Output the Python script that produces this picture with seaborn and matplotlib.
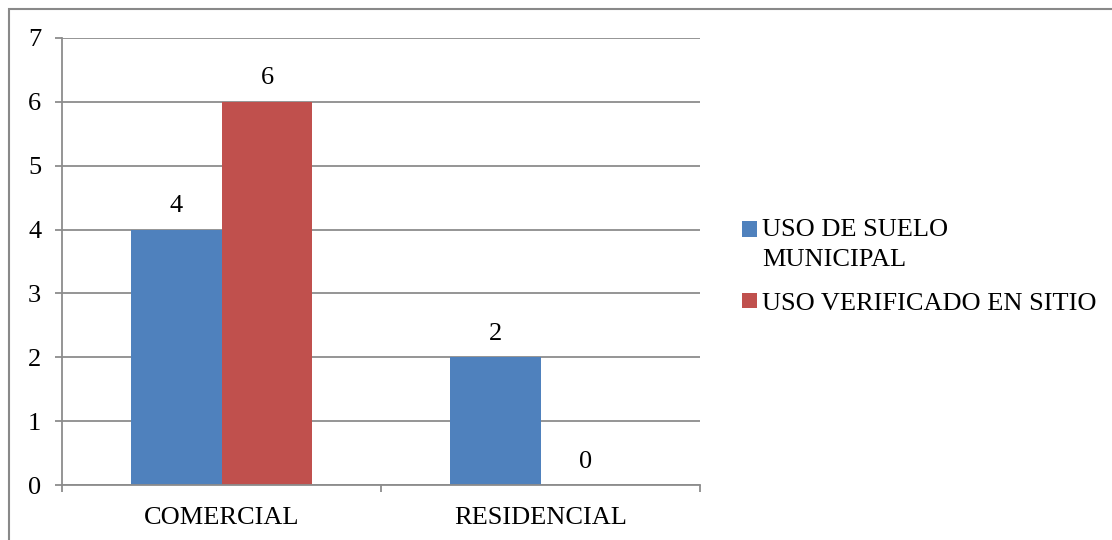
import matplotlib
matplotlib.use("Agg")
import matplotlib.pyplot as plt
from matplotlib.patches import Rectangle
from matplotlib.legend_handler import HandlerPatch
import seaborn as sns
import pandas as pd

categories = ["COMERCIAL", "RESIDENCIAL"]
series_names = ["USO DE SUELO\nMUNICIPAL", "USO VERIFICADO EN SITIO"]
uso_municipal = [4, 2]
uso_verificado = [6, 0]
y_ticks = [0, 1, 2, 3, 4, 5, 6, 7]

colors = ["#4F81BD", "#C0504D"]
grid_color = "#8C8C8C"

df = pd.DataFrame({
    "categoria": categories * 2,
    "serie": [series_names[0]] * len(categories) + [series_names[1]] * len(categories),
    "valor": uso_municipal + uso_verificado,
})

sns.set_theme(style="white")
plt.rcParams["font.family"] = ["Liberation Serif", "DejaVu Serif"]
plt.rcParams["text.color"] = "black"
plt.rcParams["xtick.labelcolor"] = "black"
plt.rcParams["ytick.labelcolor"] = "black"

fig = plt.figure(figsize=(11.12, 5.40), dpi=100)
ax = fig.add_axes([62 / 1112, 1 - 485 / 540, (700 - 62) / 1112, (485 - 38) / 540])

sns.barplot(data=df, x="categoria", y="valor", hue="serie", palette=colors,
            width=0.57, gap=0, saturation=1, ax=ax, legend=True, linewidth=0,
            order=categories, hue_order=series_names)

ax.set_xlim(-0.5, len(categories) - 0.5)
ax.set_ylim(0, 7)
ax.set_yticks(y_ticks)
ax.set_xlabel("")
ax.set_ylabel("")

ax.yaxis.grid(True, color=grid_color, linewidth=1.3)
ax.set_axisbelow(True)
for side in ["top", "right"]:
    ax.spines[side].set_visible(False)
for side in ["left", "bottom"]:
    ax.spines[side].set_color(grid_color)
    ax.spines[side].set_linewidth(1.3)

ax.tick_params(axis="y", left=True, length=5, width=1.3, color=grid_color,
               labelsize=19, pad=10, labelcolor="black")
# category boundary ticks on the x axis
ax.set_xticks([-0.5, 0.5, 1.5], minor=True)
ax.set_xticks(range(len(categories)))
ax.set_xticklabels(categories)
ax.tick_params(axis="x", which="major", bottom=False, labelsize=19, pad=10,
               labelcolor="black")
ax.tick_params(axis="x", which="minor", bottom=True, length=5, width=1.3,
               color=grid_color)

for container in ax.containers:
    ax.bar_label(container, fmt="%g", padding=9, fontsize=19, color="black")


class TopAlignedSquare(HandlerPatch):
    """Square legend key aligned with the first line of a two-line label."""

    def __init__(self, shift, **kw):
        super().__init__(**kw)
        self.shift = shift

    def create_artists(self, legend, orig_handle, xdescent, ydescent,
                       width, height, fontsize, trans):
        p = Rectangle((-xdescent, -ydescent + self.shift), width, height,
                      facecolor=orig_handle.get_facecolor(), edgecolor="none",
                      transform=trans)
        return [p]


handles, labels = ax.get_legend_handles_labels()
handler_map = {handles[0]: TopAlignedSquare(shift=10.8),
               handles[1]: TopAlignedSquare(shift=0)}
leg = ax.legend(handles, labels, loc="center left", bbox_to_anchor=(1.05, 0.488),
                frameon=False, fontsize=19, handlelength=0.55, handleheight=0.55,
                handletextpad=0.2, labelspacing=0.8, borderaxespad=0,
                handler_map=handler_map)
for t in leg.get_texts():
    t.set_linespacing(1.5)

# outer chart frame
fig.patches.append(Rectangle((9 / 1112, -0.1), 1.2, 1 - 9 / 540 + 0.1,
                             transform=fig.transFigure, fill=False,
                             edgecolor="#898989", linewidth=1.5))

fig.savefig("out.png", dpi=100)
